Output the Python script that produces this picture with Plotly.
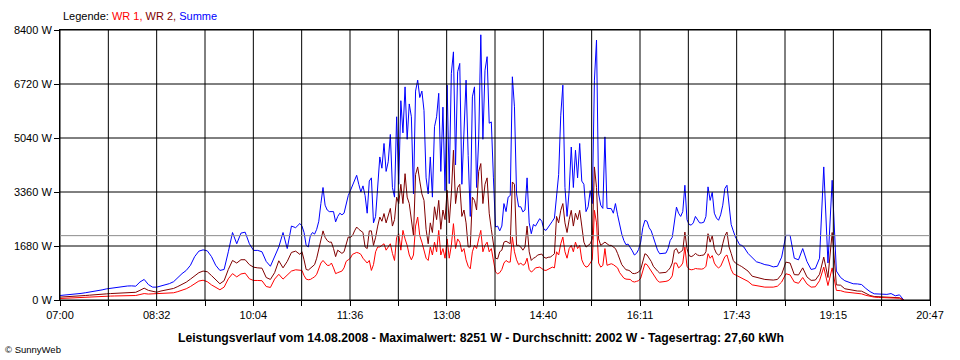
import plotly.graph_objects as go

# ---- time grid (minutes after 07:00) ----
DAY_START = 420          # 07:00 in minutes of day
DAY_END = 1247           # 20:47
SEG1 = list(range(0, 229, 4))     # 07:00 - 10:48, 4-min samples
SEG2 = list(range(230, 651, 2))   # 10:50 - 17:50, 2-min samples
SEG3 = list(range(654, 803, 4))   # 17:54 - 20:22, 4-min samples
MINUTES = SEG1 + SEG2 + SEG3

# ---- series values (W) ----
SUMME = [
    140,150,165,180,195,205,225,243,265,290, 315,345,365,380,400,420,435,440,430,560,
    640,480,400,400,430,470,510,570,700,820, 920,1080,1350,1520,1560,1530,1350,1080,920,950,
    1500,2100,1750,2080,2110,1750,1543,1543,1500,1200, 1050,1334,1650,2100,1600,2300,2250,2380,
    # seg2
    2300,2100,1700,1650,2000,2100,2050,2200,2450,3000,
    3500,2950,2800,2750,2760,2750,2430,2600,2700,2650,
    2700,2950,3250,3400,3550,3700,3880,3600,3360,3550,
    3250,2700,3700,3800,2400,2600,3700,4450,4100,4870,
    4000,4300,5150,3500,3200,5700,3600,6200,5200,6630,
    5000,6100,5700,3300,6500,6840,6300,6500,5900,3800,
    3300,4450,3200,5390,5700,6430,4000,6000,3400,6685,
    3620,7050,7720,4200,7100,7360,3600,5200,6840,4500,
    2600,6320,6630,3500,5000,8251,5000,7150,7570,5500,
    5540,3800,2270,2300,2150,2300,3000,2750,3200,3250,
    6945,6010,3300,2900,2900,2740,2800,3800,2400,2063,
    2350,2300,2400,2530,2450,2200,2166,2250,2350,2450,
    2550,3310,3900,5750,6685,3500,2600,3400,4760,3500,
    4660,3800,4870,3700,3600,2750,2900,3400,3000,6840,
    8089,3300,2950,2850,5075,2850,2850,2843,2700,3000,
    2650,2300,2050,1850,1720,1740,1650,1530,1400,1450,
    1570,1800,2250,2478,2450,2250,2150,1960,1700,1550,
    1440,1450,1450,1460,1600,1850,1950,2400,2890,2700,
    2600,2750,3570,2500,2350,2330,2400,2600,2500,2400,
    2400,2420,2600,3520,3100,3350,2700,2550,2480,2650,
    2950,3470,3570,2900,2350,2150,1960,1850,1720,1700,
    1650,
    # seg3
    1450,1320,1190,1150,1100,1080,1030,1050,1334,2010,
    2010,1300,1250,1600,1200,950,980,1300,4140,1150,
    3725,900,700,600,540,505,500,480,360,260,
    193,190,180,175,200,130,160,0,
]

WR2 = [
    90,95,100,110,120,130,140,150,155,165, 175,190,200,205,212,220,228,235,240,300,
    368,300,260,243,280,310,330,360,420,480, 555,650,750,850,900,880,760,620,505,600,
    950,1230,1150,1253,1253,1100,1020,1000,990,700, 640,850,1220,1000,1200,1480,1520,1420,
    # seg2
    1500,1250,950,930,980,1050,1100,1300,1600,1900,
    2150,1950,1850,1800,1800,1600,1350,1550,1500,1450,
    1500,1700,1960,1950,2000,2150,2270,2200,2150,2100,
    1650,1600,2150,2150,1700,1950,2300,2580,2450,2690,
    2400,2600,2850,2300,2500,3200,3000,3600,3000,3930,
    3200,3000,2500,2000,3900,4140,3700,3300,3100,2200,
    1750,2400,2100,2900,2500,3100,2200,2800,2500,3413,
    2400,3300,4660,3000,3500,3600,2600,2800,2400,1650,
    1650,3200,3100,2800,4000,4245,3000,3600,3800,2700,
    2200,1750,1300,1280,1500,1550,1800,1830,1800,1750,
    3672,3600,1700,1700,1650,1550,1650,2300,1500,1231,
    1300,1330,1400,1420,1430,1334,1300,1330,1334,1380,
    1440,2600,2400,2790,3000,2400,2100,2500,2790,2300,
    2700,2500,2790,2300,1800,1646,1700,1750,1900,4140,
    3500,1900,1700,1750,1800,1750,1700,1700,1650,1600,
    1450,1250,1100,1020,940,930,900,830,820,840,
    870,950,1200,1440,1400,1300,1200,1050,960,900,
    840,850,850,860,920,1000,1150,1550,1600,1450,
    1500,1550,2114,1600,1380,1350,1380,1450,1400,1380,
    1390,1400,1500,2063,1800,2000,1600,1450,1400,1450,
    1750,2000,2114,1650,1450,1231,1150,1100,1075,1040,
    1000,
    # seg3
    900,740,700,680,640,630,620,640,800,1178,
    1150,790,780,1000,720,610,620,800,1334,700,
    2100,470,460,350,320,296,280,275,200,140,
    109,100,95,90,85,80,70,0,
]

WR1 = [
    47,55,60,65,72,78,85,92,100,105, 110,118,122,125,130,132,135,138,140,170,
    200,185,190,193,200,205,212,225,260,300, 350,420,500,590,615,570,470,380,318,400,
    660,820,720,810,835,660,608,608,600,420, 390,650,800,650,780,900,940,940,
    # seg2
    920,760,650,630,640,680,720,800,980,1150,
    1230,1150,1080,1075,1150,1000,820,850,880,900,
    1000,1200,1250,1300,1420,1450,1480,1460,1420,1300,
    1230,1150,1230,920,1100,1500,1650,1650,1700,1750,
    1550,1650,1750,1450,1230,1950,2060,1550,2166,1900,
    1700,1400,1250,1400,2300,2580,2000,1800,1500,1300,
    1230,1650,1400,1800,1500,2166,1400,1600,1300,1900,
    1300,1700,2375,1600,1900,1800,1500,1600,1250,1050,
    970,1500,1700,1600,1900,2166,1500,1700,1800,1500,
    1600,1200,870,816,850,950,1150,1230,1180,1180,
    1958,1500,1250,1100,1150,1080,1120,1300,950,870,
    920,1000,1020,1023,980,930,920,960,1000,1023,
    1000,1500,1400,1750,1958,1500,1300,1600,1700,1500,
    1800,1600,1700,1250,1100,1023,1050,1150,1250,2790,
    2400,1150,1023,1075,1600,1080,1100,1128,1100,1050,
    1000,850,750,680,650,650,640,580,560,580,
    600,680,930,1128,1100,1000,900,780,680,600,
    555,560,570,580,600,650,750,1150,1150,1000,
    1050,1150,1646,1050,960,940,950,980,970,960,
    960,980,1050,1440,1300,1380,1150,1050,1000,1050,
    1200,1350,1400,1150,950,816,780,740,700,680,
    650,
    # seg3
    580,470,440,420,400,400,400,430,560,816,
    780,560,520,700,500,400,410,600,1023,450,
    1000,300,290,250,230,210,200,190,145,110,
    90,80,75,70,65,60,55,0,
]

AVERAGE = 2002
X_TICK_LABELS = ["07:00", "", "08:32", "", "10:04", "", "11:36", "", "13:08", "",
                 "14:40", "", "16:11", "", "17:43", "", "19:15", "", "20:47"]
Y_TICK_VALUES = [0, 1680, 3360, 5040, 6720, 8400]
Y_TICK_LABELS = ["0 W", "1680 W", "3360 W", "5040 W", "6720 W", "8400 W"]
TITLE = ("Leistungsverlauf vom 14.08.2008 - Maximalwert: 8251 W - "
         "Durchschnitt: 2002 W - Tagesertrag: 27,60 kWh")

x = [DAY_START + m for m in MINUTES]
n_ticks = len(X_TICK_LABELS)
x_tick_vals = [DAY_START + k * (DAY_END - DAY_START) / (n_ticks - 1) for k in range(n_ticks)]

FONT = "Liberation Sans, Arial, sans-serif"

fig = go.Figure()
for vals, color in [(SUMME, "#0000FF"), (WR2, "#800000"), (WR1, "#FF0000")]:
    fig.add_trace(go.Scatter(x=x, y=vals, mode="lines",
                             line=dict(color=color, width=1, shape="linear"),
                             showlegend=False, hoverinfo="skip"))

shapes = []
for xv in x_tick_vals:
    shapes.append(dict(type="line", xref="x", yref="paper", x0=xv, x1=xv, y0=0, y1=1,
                       line=dict(color="black", width=1), layer="above"))
for yv in Y_TICK_VALUES:
    shapes.append(dict(type="line", xref="paper", yref="y", x0=0, x1=1, y0=yv, y1=yv,
                       line=dict(color="black", width=1), layer="above"))
shapes.append(dict(type="line", xref="paper", yref="y", x0=0, x1=1, y0=AVERAGE, y1=AVERAGE,
                   line=dict(color="#8c8c8c", width=1), layer="above"))

fig.update_layout(
    width=960, height=360,
    margin=dict(l=60, r=30, t=30, b=60),
    paper_bgcolor="white", plot_bgcolor="white",
    font=dict(family=FONT, size=11, color="black"),
    shapes=shapes,
    xaxis=dict(range=[DAY_START, DAY_END], tickvals=x_tick_vals, ticktext=X_TICK_LABELS,
               ticks="outside", ticklen=5, tickcolor="black", tickwidth=1,
               showgrid=False, zeroline=False, showline=True, linecolor="black",
               linewidth=1, mirror=True, tickfont=dict(family=FONT, size=11, color="black")),
    yaxis=dict(range=[0, 8400], tickvals=Y_TICK_VALUES, ticktext=Y_TICK_LABELS,
               ticks="outside", ticklen=5, tickcolor="black", tickwidth=1,
               showgrid=False, zeroline=False, showline=True, linecolor="black",
               linewidth=1, mirror=True, tickfont=dict(family=FONT, size=11, color="black")),
    annotations=[
        dict(xref="paper", yref="paper", x=(61 - 60) / 870, y=(300 - 16) / 270,
             xanchor="left", yanchor="middle", showarrow=False,
             text=("Legende: <span style='color:#FF0000'>WR 1,</span> "
                   "<span style='color:#800000'>WR 2,</span> "
                   "<span style='color:#0000FF'>Summe</span>"),
             font=dict(family=FONT, size=11, color="black")),
        dict(xref="paper", yref="paper", x=(480.5 - 60) / 870, y=(300 - 338) / 270,
             xanchor="center", yanchor="middle", showarrow=False,
             text="<b>" + TITLE + "</b>",
             font=dict(family=FONT, size=12.2, color="black")),
        dict(xref="paper", yref="paper", x=(3 - 60) / 870, y=(300 - 349) / 270,
             xanchor="left", yanchor="middle", showarrow=False,
             text="© SunnyWeb", font=dict(family=FONT, size=9.5, color="black")),
    ],
)

fig.write_html("out.html", config={"displayModeBar": False},
               post_script="document.body.style.margin='0px';")
